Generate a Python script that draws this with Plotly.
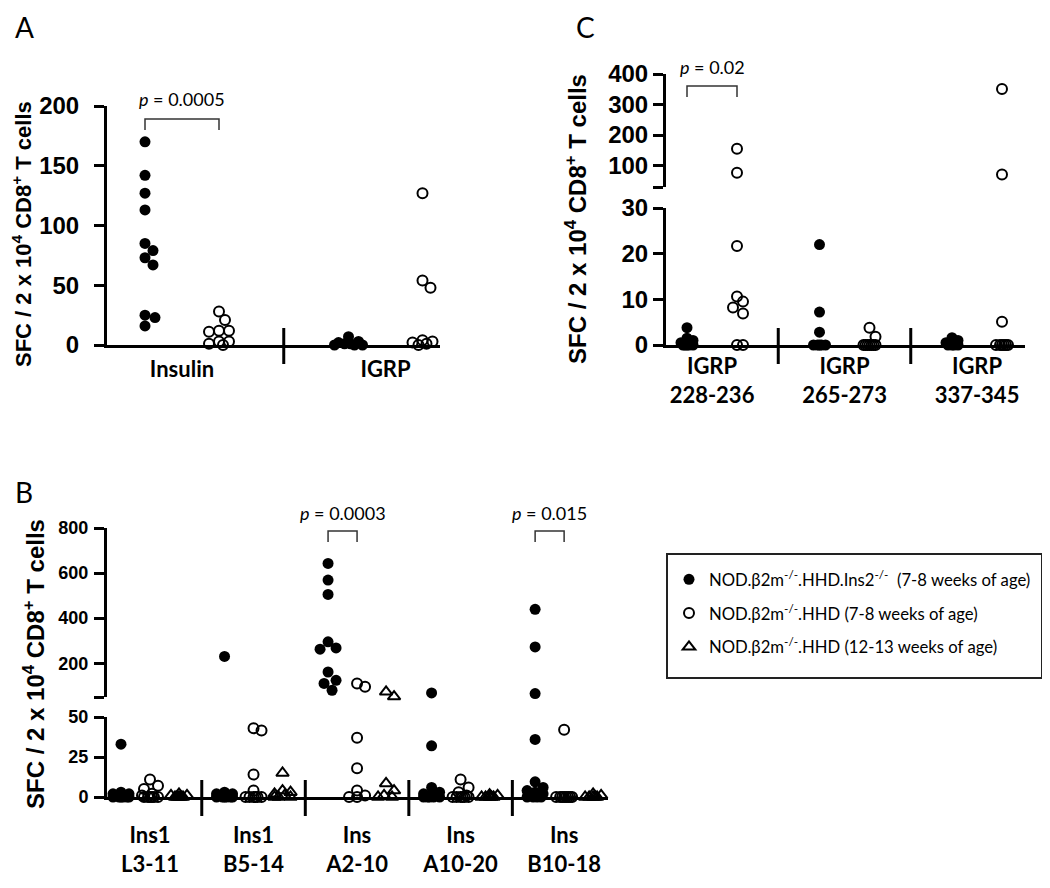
import plotly.graph_objects as go

# page body has an 8px default margin; the figure is sized to fill the rest of the window
OFF = 8
W, H = 1050 - OFF, 888 - OFF

# ---------------- data ----------------
SERIES = [
    "NOD.β2m<sup>-/-</sup>.HHD.Ins2<sup>-/-</sup>  (7-8 weeks of age)",
    "NOD.β2m<sup>-/-</sup>.HHD (7-8 weeks of age)",
    "NOD.β2m<sup>-/-</sup>.HHD (12-13 weeks of age)",
]

# Panel A
A_categories = ["Insulin", "IGRP"]
A_ins2ko = [[170, 142, 127, 113, 85, 79, 73, 67, 25, 23, 16], [7, 3, 2, 1, 1, 0, 0, 0]]
A_hhd_7wk = [[28, 21, 12, 12, 11, 3, 3, 1, 0], [127, 54, 48, 4, 3, 2, 1, 0]]
A_yticks = [0, 50, 100, 150, 200]
A_pvalues = {0: "0.0005"}

# Panel C
C_categories = ["IGRP<br>228-236", "IGRP<br>265-273", "IGRP<br>337-345"]
C_ins2ko = [[3.8, 1.5, 1, 0.5, 0, 0, 0, 0, 0], [22, 7.2, 2.8, 0, 0, 0, 0, 0], [1.6, 1, 0.5, 0, 0, 0, 0]]
C_hhd_7wk = [[155, 77, 21.7, 10.6, 9.5, 8.2, 6.9, 0, 0], [3.8, 1.8, 0, 0, 0, 0, 0, 0, 0],
             [351, 71, 5.1, 0, 0, 0, 0, 0, 0]]
C_yticks_low = [0, 10, 20, 30]
C_yticks_high = [100, 200, 300, 400]
C_break = 30
C_top = 400
C_pvalues = {0: "0.02"}

# Panel B
B_categories = ["Ins1<br>L3-11", "Ins1<br>B5-14", "Ins<br>A2-10", "Ins<br>A10-20", "Ins<br>B10-18"]
B_ins2ko = [
    [33, 3, 2, 2, 1, 1, 0, 0, 0, 0, 0, 0],
    [230, 3, 2, 2, 1, 1, 0, 0, 0, 0, 0, 0],
    [643, 569, 505, 295, 268, 262, 161, 124, 110, 80],
    [68, 32, 6, 3, 2, 1, 1, 0, 0, 0, 0, 0],
    [439, 272, 65, 36, 9.5, 6, 4, 3, 2, 1, 0, 0, 0, 0],
]
B_hhd_7wk = [
    [11, 7, 5, 2, 1, 0, 0, 0, 0, 0, 0],
    [43, 41.5, 14, 4, 0, 0, 0, 0, 0, 0],
    [110, 95, 37, 18, 4, 1, 0, 0],
    [11, 6, 3, 1, 0, 0, 0, 0, 0, 0],
    [42, 0, 0, 0, 0, 0, 0, 0, 0],
]
B_hhd_12wk = [
    [2, 1, 1, 0, 0, 0, 0, 0],
    [15, 4, 3, 2, 1, 0, 0, 0],
    [73, 52, 8.5, 4, 1, 0, 0],
    [1.5, 1, 0, 0, 0, 0, 0],
    [2, 1, 0, 0, 0, 0, 0],
]
B_yticks_low = [0, 25, 50]
B_yticks_high = [200, 400, 600, 800]
B_break = 50
B_top = 800
B_pvalues = {2: "0.0003", 4: "0.015"}

# ---------------- styling helpers ----------------
TICK_FONT = "Liberation Sans, Arial, sans-serif"
TEXT_FONT = "Lato, Open Sans, sans-serif"

STYLES = [
    dict(symbol="circle", color="black", size=11, line=dict(width=0)),
    dict(symbol="circle-open", color="black", size=10, line=dict(width=2, color="black")),
    dict(symbol="triangle-up-open", color="black", size=11, line=dict(width=2, color="black")),
]


def px2x(px):
    return (px - OFF) / W


def px2y(py):
    return 1 - (py - OFF) / H


def swarm(vals, to_px, diam, width, step):
    """Deterministic beeswarm-like horizontal spreading (pixel offsets)."""
    placed, offs = [], []
    K = int(width // step)
    cands = sorted([k * step for k in range(-K, K + 1)], key=lambda c: (abs(c), -c))
    for v in vals:
        yp = to_px(v)
        best, bestd = None, -1.0
        for c in cands:
            d = min([((c - a) ** 2 + (yp - b) ** 2) ** 0.5 for a, b in placed], default=1e9)
            if d >= diam:
                best = c
                break
            if d > bestd + 1e-9:
                bestd, best = d, c
        placed.append((best, yp))
        offs.append(best)
    return offs


fig = go.Figure()
shown = set()


def add_panel(series_lists, xa, ylo, yhi, split, to_px, ppx, group_step, diam, width):
    for s, groups in enumerate(series_lists):
        for g, vals in enumerate(groups):
            center = g * group_step + s
            offs = swarm(vals, to_px, diam, width, 2.0)
            xs = [center + o / ppx for o in offs]
            lo = [(x, v) for x, v in zip(xs, vals) if split is None or v <= split]
            hi = [(x, v) for x, v in zip(xs, vals) if split is not None and v > split]
            for pts, ya in ((lo, ylo), (hi, yhi)):
                if not pts:
                    continue
                st = STYLES[s]
                show = s not in shown
                shown.add(s)
                fig.add_trace(go.Scatter(
                    x=[p[0] for p in pts], y=[p[1] for p in pts], mode="markers",
                    xaxis=xa, yaxis=ya, cliponaxis=False,
                    marker=dict(symbol=st["symbol"], color=st["color"], size=st["size"], line=st["line"]),
                    name=SERIES[s], legendgroup=str(s), legendrank=s + 1, showlegend=show,
                ))


# geometry (pixels in the window)
A_left, A_right, A_first, A_ppx, A_gstep = 107, 440, 145, 74, 2.75
C_left, C_right, C_first, C_ppx, C_gstep = 666, 1025, 687, 50, 2.65
B_left, B_right, B_first, B_ppx, B_gstep = 107, 608, 121, 29, 3.57

A_bot, A_topp = 345, 106
C_bot, C_low_top, C_up_bot, C_up_top = 345, 208, 187, 74
B_bot, B_low_top, B_up_bot, B_up_top = 797, 717, 697, 528


def a_px(v):
    return v * (A_bot - A_topp) / A_yticks[-1]


def c_px(v):
    lowh = C_bot - C_low_top
    if v <= C_break:
        return v * lowh / C_break
    return lowh + (C_low_top - C_up_bot) + (v - C_break) * (C_up_bot - C_up_top) / (C_top - C_break)


def b_px(v):
    lowh = B_bot - B_low_top
    if v <= B_break:
        return v * lowh / B_break
    return lowh + (B_low_top - B_up_bot) + (v - B_break) * (B_up_bot - B_up_top) / (B_top - B_break)


add_panel([A_ins2ko, A_hhd_7wk], "x", "y", "y", None, a_px, A_ppx, A_gstep, 10, 14)
add_panel([C_ins2ko, C_hhd_7wk], "x2", "y2", "y3", C_break, c_px, C_ppx, C_gstep, 10, 7)
add_panel([B_ins2ko, B_hhd_7wk, B_hhd_12wk], "x3", "y4", "y5", B_break, b_px, B_ppx, B_gstep, 11, 8)

yaxis_common = dict(showline=True, linewidth=3, linecolor="black", ticks="outside", ticklen=10,
                    tickwidth=3, tickcolor="black", showgrid=False, zeroline=False, automargin=False)
xaxis_common = dict(showline=True, linewidth=3, linecolor="black", ticks="", showgrid=False,
                    zeroline=False, automargin=False,
                    tickfont=dict(family=TEXT_FONT, size=22, color="black", weight="bold"))

nA, nC, nB = len(A_categories), len(C_categories), len(B_categories)

fig.update_layout(
    width=W, height=H, margin=dict(l=0, r=0, t=0, b=0, pad=0, autoexpand=False),
    paper_bgcolor="white", plot_bgcolor="rgba(0,0,0,0)",
    xaxis=dict(**xaxis_common, domain=[px2x(A_left), px2x(A_right)], anchor="y",
               range=[(A_left - A_first) / A_ppx, (A_right - A_first) / A_ppx],
               tickvals=[g * A_gstep + 0.5 for g in range(nA)], ticktext=A_categories,
               ticklabelstandoff=3),
    yaxis=dict(**yaxis_common, domain=[px2y(A_bot), px2y(A_topp)], anchor="x",
               range=[0, A_yticks[-1]], tickvals=A_yticks, ticklabelstandoff=10,
               tickfont=dict(family=TICK_FONT, size=24, color="black", weight="bold")),
    xaxis2=dict(**xaxis_common, domain=[px2x(C_left), px2x(C_right)], anchor="y2",
                range=[(C_left - C_first) / C_ppx, (C_right - C_first) / C_ppx],
                tickvals=[g * C_gstep + 0.5 for g in range(nC)], ticktext=C_categories,
                ticklabelstandoff=0),
    yaxis2=dict(**yaxis_common, domain=[px2y(C_bot), px2y(C_low_top)], anchor="x2",
                range=[0, C_break], tickvals=C_yticks_low, ticklabelstandoff=0,
                tickfont=dict(family=TICK_FONT, size=24, color="black", weight="bold")),
    yaxis3=dict(**yaxis_common, domain=[px2y(C_up_bot), px2y(C_up_top)], anchor="x2",
                range=[C_break, C_top], tickvals=[C_break] + C_yticks_high,
                ticktext=[""] + [str(t) for t in C_yticks_high], ticklabelstandoff=0,
                tickfont=dict(family=TICK_FONT, size=24, color="black", weight="bold")),
    xaxis3=dict(**xaxis_common, domain=[px2x(B_left), px2x(B_right)], anchor="y4",
                range=[(B_left - B_first) / B_ppx, (B_right - B_first) / B_ppx],
                tickvals=[g * B_gstep + 1 for g in range(nB)], ticktext=B_categories,
                ticklabelstandoff=17),
    yaxis4=dict(**yaxis_common, domain=[px2y(B_bot), px2y(B_low_top)], anchor="x3",
                range=[0, B_break], tickvals=B_yticks_low, ticklabelstandoff=2,
                tickfont=dict(family=TICK_FONT, size=18, color="black", weight="bold")),
    yaxis5=dict(**yaxis_common, domain=[px2y(B_up_bot), px2y(B_up_top)], anchor="x3",
                range=[B_break, B_top], tickvals=[B_break] + B_yticks_high,
                ticktext=[""] + [str(t) for t in B_yticks_high], ticklabelstandoff=2,
                tickfont=dict(family=TICK_FONT, size=18, color="black", weight="bold")),
    legend=dict(x=px2x(669), y=px2y(562), xanchor="left", yanchor="top",
                borderwidth=0, bgcolor="rgba(0,0,0,0)",
                font=dict(family=TEXT_FONT, size=16.7, color="black"),
                traceorder="grouped", tracegroupgap=9),
    showlegend=True,
)

shapes = []
annotations = []

# legend frame
shapes.append(dict(type="rect", xref="paper", yref="paper", x0=px2x(667), x1=px2x(1042),
                   y0=px2y(678), y1=px2y(554), line=dict(color="#222", width=2), layer="below"))

# group dividers
for xa, n, gstep, nsub, bot in (("x", nA, A_gstep, 2, A_bot), ("x2", nC, C_gstep, 2, C_bot),
                                ("x3", nB, B_gstep, 3, B_bot)):
    for g in range(n - 1):
        xd = (g * gstep + (nsub - 1) + (g + 1) * gstep) / 2
        shapes.append(dict(type="line", xref=xa, yref="paper", x0=xd, x1=xd,
                           y0=px2y(bot + 19), y1=px2y(bot - 17), line=dict(color="black", width=3)))


def bracket(xa, g, gstep, p, y_top_px, text_px):
    x0 = g * gstep
    x1 = g * gstep + 1
    yb, yt = px2y(y_top_px + 11), px2y(y_top_px)
    shapes.append(dict(type="path", xref=xa, yref="paper",
                       path=f"M {x0},{yb} L {x0},{yt} L {x1},{yt} L {x1},{yb}",
                       line=dict(color="#333", width=1.5)))
    annotations.append(dict(xref=xa, yref="paper", x=(x0 + x1) / 2, y=px2y(text_px),
                            text=f"<i>p</i> = {p}", showarrow=False, xanchor="center", yanchor="middle",
                            font=dict(family=TEXT_FONT, size=18, color="black")))


for g, p in A_pvalues.items():
    bracket("x", g, A_gstep, p, 119, 99)
for g, p in C_pvalues.items():
    bracket("x2", g, C_gstep, p, 86, 67)
for g, p in B_pvalues.items():
    bracket("x3", g, B_gstep, p, 531, 513)

ytitle = "<b>SFC / 2 x 10<sup>4</sup> CD8<sup>+</sup> T cells</b>"
for xp, yp, size in ((22, 234, 22), (576, 219, 24), (34, 664, 24)):
    annotations.append(dict(xref="paper", yref="paper", x=px2x(xp), y=px2y(yp), text=ytitle,
                            textangle=-90, showarrow=False, xanchor="center", yanchor="middle",
                            font=dict(family=TICK_FONT, size=size, color="black")))

for letter, xp, yp in (("A", 24, 27), ("C", 585, 27), ("B", 24, 492)):
    annotations.append(dict(xref="paper", yref="paper", x=px2x(xp), y=px2y(yp), text=letter,
                            showarrow=False, xanchor="center", yanchor="middle",
                            font=dict(family=TEXT_FONT, size=28, color="black")))

fig.update_layout(shapes=shapes, annotations=annotations)
fig.write_html("out.html")
